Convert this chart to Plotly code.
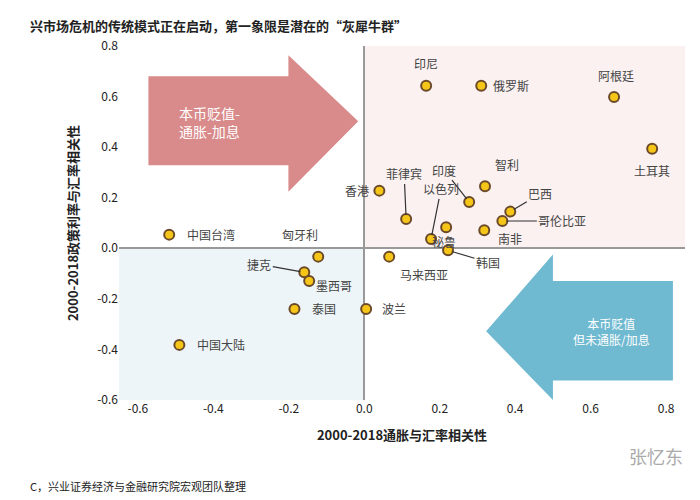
import plotly.graph_objects as go

names = ["印尼","俄罗斯","阿根廷","土耳其","香港","菲律宾","印度","智利","巴西","哥伦比亚","南非","秘鲁","以色列","韩国",
         "中国台湾","匈牙利","马来西亚","捷克","墨西哥","泰国","波兰","中国大陆"]
infl_corr = [0.164,0.31,0.662,0.763,0.04,0.111,0.278,0.32,0.387,0.366,0.318,0.217,0.177,0.222,
             -0.517,-0.122,0.066,-0.159,-0.146,-0.185,0.005,-0.49]
rate_corr = [0.643,0.643,0.598,0.394,0.228,0.116,0.183,0.245,0.145,0.108,0.071,0.083,0.037,-0.008,
             0.054,-0.033,-0.033,-0.095,-0.129,-0.24,-0.24,-0.382]
# label offsets in pixels (dx, dy) and whether to draw a leader line
label_pos = {"印尼":(0,-22,False),"俄罗斯":(30,0,False),"阿根廷":(2,-22,False),"土耳其":(0,22,False),
             "香港":(-22,0,False),"菲律宾":(-2,-45,True),"印度":(-25,-32,True),"智利":(22,-22,False),
             "巴西":(30,-18,True),"哥伦比亚":(60,0,True),"南非":(26,8,False),"秘鲁":(-2,14,False),
             "以色列":(10,-50,True),"韩国":(40,12,True),"中国台湾":(42,0,False),"匈牙利":(-18,-22,False),
             "马来西亚":(35,18,False),"捷克":(-45,-8,True),"墨西哥":(25,5,False),"泰国":(30,0,False),
             "波兰":(28,0,False),"中国大陆":(42,0,False)}

fig = go.Figure()
fig.add_trace(go.Scatter(x=infl_corr, y=rate_corr, mode="markers",
    marker=dict(size=10, color="#f5c518", line=dict(color="#6b4a2a", width=2)), hoverinfo="text", text=names))

for n, x, y in zip(names, infl_corr, rate_corr):
    dx, dy, arrow = label_pos[n]
    fig.add_annotation(x=x, y=y, text=n, showarrow=arrow, ax=dx, ay=dy, arrowhead=0, arrowwidth=1.2,
                       arrowcolor="#333", standoff=4, xshift=0 if arrow else dx, yshift=0 if arrow else -dy,
                       font=dict(size=12, color="#444"))

shapes = [
    dict(type="rect", xref="x", yref="y", x0=0, x1=0.85, y0=0, y1=0.8, fillcolor="#fbf1f1", line_width=0, layer="below"),
    dict(type="rect", xref="x", yref="y", x0=-0.65, x1=0, y0=-0.6, y1=0, fillcolor="#eef5f9", line_width=0, layer="below"),
    dict(type="path", xref="x", yref="y", layer="below", line_width=0, fillcolor="#d98a8a",
         path="M -0.572 0.68 L -0.201 0.68 L -0.201 0.763 L -0.016 0.502 L -0.201 0.224 L -0.201 0.328 L -0.572 0.328 Z"),
    dict(type="path", xref="x", yref="y", layer="below", line_width=0, fillcolor="#6fb9d1",
         path="M 0.818 -0.129 L 0.5 -0.129 L 0.5 -0.025 L 0.323 -0.328 L 0.5 -0.6 L 0.5 -0.523 L 0.818 -0.523 Z"),
]
fig.add_annotation(x=-0.41, y=0.5, text="本币贬值-<br>通胀-加息", showarrow=False, align="left",
                   font=dict(size=14, color="white"))
fig.add_annotation(x=0.655, y=-0.33, text="本币贬值<br>但未通胀/加息", showarrow=False,
                   font=dict(size=12, color="white"))
fig.add_annotation(xref="paper", yref="paper", x=-0.16, y=1.09, xanchor="left", showarrow=False,
                   text="<b>兴市场危机的传统模式正在启动，第一象限是潜在的“灰犀牛群”</b>", font=dict(size=13, color="#222"))
fig.add_annotation(xref="paper", yref="paper", x=-0.16, y=-0.215, xanchor="left", yanchor="top", showarrow=False,
                   text="C，兴业证券经济与金融研究院宏观团队整理", font=dict(size=11, color="#222"))
fig.add_annotation(xref="paper", yref="paper", x=1.0, y=-0.2, xanchor="right", showarrow=False,
                   text="张忆东", font=dict(size=18, color="#aaa"))

fig.update_layout(
    width=700, height=500, plot_bgcolor="white", paper_bgcolor="white", showlegend=False, shapes=shapes,
    margin=dict(l=111, r=23, t=38, b=108),
    font=dict(family="Noto Sans CJK SC", color="#222"),
    xaxis=dict(range=[-0.65, 0.85], tickvals=[-0.6,-0.4,-0.2,0,0.2,0.4,0.6,0.8],
               ticktext=["-0.6","-0.4","-0.2","0.0","0.2","0.4","0.6","0.8"], showgrid=False,
               zeroline=True, zerolinecolor="#999", zerolinewidth=1.5, ticks="", tickfont=dict(size=12),
               title=dict(text="<b>2000-2018通胀与汇率相关性</b>", font=dict(size=13))),
    yaxis=dict(range=[-0.6, 0.8], tickvals=[-0.6,-0.4,-0.2,0,0.2,0.4,0.6,0.8],
               ticktext=["-0.6","-0.4","-0.2","0.0","0.2","0.4","0.6","0.8"], showgrid=False,
               zeroline=True, zerolinecolor="#999", zerolinewidth=1.5, ticks="", tickfont=dict(size=12),
               title=dict(text="<b>2000-2018政策利率与汇率相关性</b>", font=dict(size=13))),
)
fig.write_html("out.html")
